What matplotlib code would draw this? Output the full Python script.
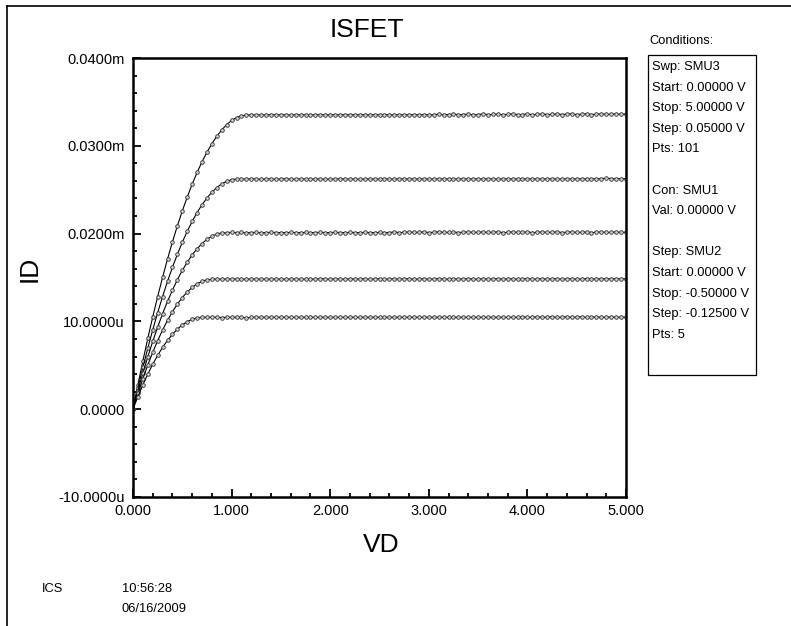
import numpy as np
import matplotlib
matplotlib.use("Agg")
import matplotlib.pyplot as plt
from matplotlib.ticker import FixedLocator, FixedFormatter, MultipleLocator

plt.rcParams['font.family'] = ['Liberation Sans', 'DejaVu Sans']

# Sweep of SMU3 (drain voltage): start, stop, number of points
vd_start, vd_stop, vd_pts = 0.0, 5.0, 101
vd = np.linspace(vd_start, vd_stop, vd_pts)

# Drain current in microamps, one list per SMU2 step (0 V ... -0.5 V)
id_step1 = [
    0.00, 2.81, 5.50, 8.06, 10.51, 12.82, 15.02, 17.10, 19.05, 20.88,
    22.58, 24.16, 25.63, 26.96, 28.18, 29.27, 30.24, 31.09, 31.81, 32.41,
    32.89, 33.22, 33.42, 33.50, 33.52, 33.50, 33.53, 33.51, 33.56, 33.52,
    33.54, 33.53, 33.50, 33.55, 33.52, 33.54, 33.51, 33.53, 33.55, 33.52,
    33.54, 33.53, 33.52, 33.56, 33.53, 33.54, 33.52, 33.55, 33.53, 33.54,
    33.52, 33.54, 33.55, 33.53, 33.54, 33.52, 33.55, 33.54, 33.53, 33.56,
    33.53, 33.54, 33.60, 33.52, 33.56, 33.62, 33.54, 33.56, 33.61, 33.53,
    33.56, 33.63, 33.54, 33.57, 33.62, 33.53, 33.58, 33.64, 33.55, 33.56,
    33.63, 33.54, 33.59, 33.65, 33.55, 33.58, 33.64, 33.56, 33.59, 33.65,
    33.55, 33.60, 33.64, 33.56, 33.58, 33.66, 33.57, 33.60, 33.64, 33.58,
    33.62,
]
id_step2 = [
    0.00, 2.44, 4.75, 6.95, 9.03, 10.99, 12.83, 14.56, 16.16, 17.64,
    19.01, 20.26, 21.39, 22.40, 23.29, 24.06, 24.71, 25.25, 25.67, 25.96,
    26.14, 26.20, 26.22, 26.20, 26.25, 26.21, 26.19, 26.24, 26.22, 26.18,
    26.23, 26.25, 26.20, 26.19, 26.24, 26.22, 26.18, 26.24, 26.21, 26.19,
    26.23, 26.20, 26.24, 26.22, 26.20, 26.23, 26.18, 26.22, 26.24, 26.21,
    26.22, 26.23, 26.22, 26.22, 26.23, 26.22, 26.23, 26.22, 26.22, 26.23,
    26.22, 26.23, 26.23, 26.22, 26.23, 26.22, 26.23, 26.23, 26.22, 26.23,
    26.23, 26.22, 26.23, 26.23, 26.22, 26.23, 26.23, 26.22, 26.23, 26.23,
    26.22, 26.23, 26.23, 26.22, 26.23, 26.23, 26.22, 26.23, 26.23, 26.22,
    26.23, 26.23, 26.22, 26.23, 26.23, 26.26, 26.30, 26.27, 26.24, 26.27,
    26.25,
]
id_step3 = [
    0.00, 2.10, 4.09, 5.96, 7.72, 9.35, 10.88, 12.28, 13.57, 14.75,
    15.80, 16.74, 17.57, 18.28, 18.87, 19.35, 19.71, 19.95, 20.08, 20.10,
    20.14, 20.11, 20.13, 20.10, 20.12, 20.13, 20.11, 20.12, 20.13, 20.12,
    20.12, 20.12, 20.13, 20.12, 20.12, 20.13, 20.12, 20.12, 20.13, 20.12,
    20.12, 20.13, 20.12, 20.12, 20.13, 20.12, 20.12, 20.13, 20.12, 20.12,
    20.13, 20.12, 20.12, 20.18, 20.12, 20.14, 20.20, 20.13, 20.15, 20.19,
    20.12, 20.15, 20.20, 20.13, 20.14, 20.19, 20.12, 20.15, 20.20, 20.13,
    20.14, 20.19, 20.13, 20.15, 20.20, 20.12, 20.14, 20.20, 20.13, 20.15,
    20.19, 20.12, 20.15, 20.20, 20.13, 20.14, 20.21, 20.12, 20.15, 20.20,
    20.13, 20.14, 20.19, 20.12, 20.15, 20.20, 20.13, 20.14, 20.19, 20.13,
    20.15,
]
id_step4 = [
    0.00, 1.79, 3.47, 5.03, 6.48, 7.80, 9.02, 10.12, 11.10, 11.97,
    12.72, 13.35, 13.88, 14.28, 14.57, 14.74, 14.80, 14.82, 14.81, 14.82,
    14.81, 14.82, 14.81, 14.81, 14.82, 14.81, 14.82, 14.81, 14.81, 14.82,
    14.81, 14.82, 14.81, 14.81, 14.82, 14.81, 14.82, 14.81, 14.88, 14.82,
    14.81, 14.84, 14.82, 14.80, 14.86, 14.82, 14.81, 14.86, 14.80, 14.83,
    14.87, 14.81, 14.82, 14.86, 14.80, 14.84, 14.87, 14.81, 14.82, 14.86,
    14.80, 14.83, 14.87, 14.81, 14.82, 14.86, 14.81, 14.83, 14.87, 14.82,
    14.81, 14.86, 14.80, 14.84, 14.87, 14.81, 14.82, 14.86, 14.80, 14.83,
    14.87, 14.81, 14.82, 14.86, 14.81, 14.84, 14.87, 14.81, 14.83, 14.86,
    14.81, 14.84, 14.87, 14.82, 14.82, 14.86, 14.84, 14.85, 14.85, 14.85,
    14.85,
]
id_step5 = [
    0.00, 1.44, 2.77, 4.00, 5.12, 6.13, 7.04, 7.84, 8.53, 9.12,
    9.60, 9.97, 10.24, 10.40, 10.45, 10.47, 10.46, 10.47, 10.44, 10.47,
    10.46, 10.47, 10.46, 10.41, 10.46, 10.47, 10.46, 10.47, 10.46, 10.47,
    10.46, 10.47, 10.46, 10.47, 10.46, 10.47, 10.46, 10.47, 10.46, 10.47,
    10.46, 10.47, 10.46, 10.47, 10.46, 10.47, 10.46, 10.47, 10.46, 10.47,
    10.46, 10.47, 10.46, 10.47, 10.46, 10.47, 10.46, 10.47, 10.46, 10.47,
    10.46, 10.47, 10.46, 10.47, 10.46, 10.47, 10.46, 10.47, 10.46, 10.47,
    10.46, 10.47, 10.46, 10.47, 10.46, 10.47, 10.46, 10.47, 10.46, 10.52,
    10.46, 10.47, 10.52, 10.46, 10.47, 10.53, 10.46, 10.47, 10.52, 10.46,
    10.47, 10.52, 10.46, 10.47, 10.52, 10.46, 10.47, 10.52, 10.46, 10.49,
    10.48,
]
id_curves = [id_step1, id_step2, id_step3, id_step4, id_step5]

# Axis ticks (microamps for ID, volts for VD) and their instrument-style labels
y_ticks = [-10, 0, 10, 20, 30, 40]
y_labels = ["-10.0000u", "0.0000", "10.0000u", "0.0200m", "0.0300m", "0.0400m"]
x_ticks = [0, 1, 2, 3, 4, 5]
x_labels = ["0.000", "1.000", "2.000", "3.000", "4.000", "5.000"]

conditions = [
    "Swp: SMU3", "Start: 0.00000 V", "Stop: 5.00000 V", "Step: 0.05000 V", "Pts: 101",
    "",
    "Con: SMU1", "Val: 0.00000 V",
    "",
    "Step: SMU2", "Start: 0.00000 V", "Stop: -0.50000 V", "Step: -0.12500 V", "Pts: 5",
]

W, H = 791, 626
fig = plt.figure(figsize=(W / 100, H / 100), dpi=100)

def fx(px):
    return px / W

def fy(py):
    return 1 - py / H

ax = fig.add_axes([fx(133), fy(497), fx(626) - fx(133), fy(58) - fy(497)])

for cur in id_curves:
    ax.plot(vd, cur, color="black", lw=0.8, marker="o", ms=2.6,
            mfc="#d0d0d0", mec="#303030", mew=0.6)

ax.set_xlim(0, 5)
ax.set_ylim(-10, 40)
ax.xaxis.set_major_locator(FixedLocator(x_ticks))
ax.xaxis.set_major_formatter(FixedFormatter(x_labels))
ax.yaxis.set_major_locator(FixedLocator(y_ticks))
ax.yaxis.set_major_formatter(FixedFormatter(y_labels))
ax.xaxis.set_minor_locator(MultipleLocator(0.2))
ax.yaxis.set_minor_locator(MultipleLocator(2))
ax.tick_params(which="both", direction="in", top=False, right=False,
               width=1.3, color="black", labelsize=10.5, labelcolor="black")
ax.tick_params(which="major", length=6)
ax.tick_params(which="minor", length=3)
ax.tick_params(axis="y", which="major", pad=6)
ax.tick_params(axis="x", which="major", pad=5)
for s in ax.spines.values():
    s.set_linewidth(1.8)
    s.set_color("black")

# Title and axis names
fig.text(fx(367), fy(30), "ISFET", fontsize=19, ha="center", va="center")
fig.text(fx(30), fy(269), "ID", fontsize=19, ha="center", va="center", rotation=90)
fig.text(fx(381), fy(545), "VD", fontsize=19, ha="center", va="center")

# Conditions panel
fig.text(fx(649), fy(41), "Conditions:", fontsize=9.3, ha="left", va="center")
box = plt.Rectangle((fx(648), fy(375)), fx(756) - fx(648), fy(55) - fy(375),
                    transform=fig.transFigure, fill=False, ec="black", lw=0.9)
fig.add_artist(box)
y0, dy = 67, 20.6
for i, line in enumerate(conditions):
    if line:
        fig.text(fx(652), fy(y0 + i * dy), line, fontsize=9.3, ha="left", va="center")

# Footer
fig.text(fx(42), fy(589), "ICS", fontsize=9.3, ha="left", va="center")
fig.text(fx(122), fy(589), "10:56:28", fontsize=9.3, ha="left", va="center")
fig.text(fx(122), fy(609), "06/16/2009", fontsize=9.3, ha="left", va="center")

# Page frame (top and left edges)
fig.add_artist(plt.Line2D([fx(7), 1], [fy(6), fy(6)], transform=fig.transFigure,
                          color="black", lw=1.2))
fig.add_artist(plt.Line2D([fx(7), fx(7)], [fy(6), 0], transform=fig.transFigure,
                          color="black", lw=1.2))

fig.savefig("out.png", dpi=100)
